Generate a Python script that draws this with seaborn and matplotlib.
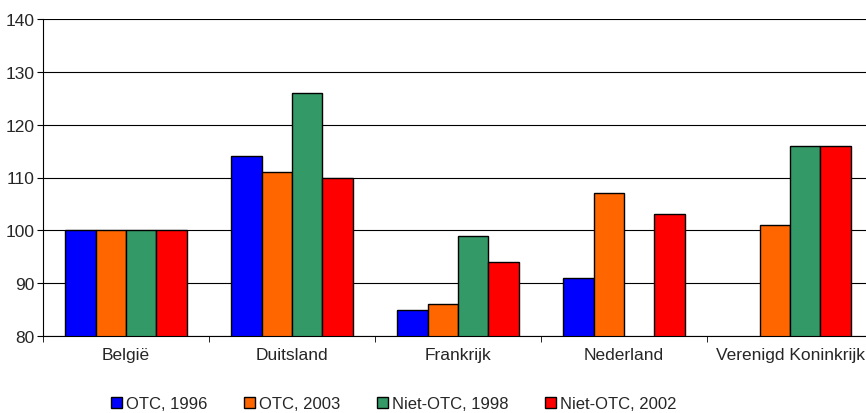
import matplotlib

matplotlib.use("Agg")
import matplotlib.pyplot as plt
import numpy as np
import pandas as pd
import seaborn as sns
from matplotlib.ticker import FixedLocator

categories = ["België", "Duitsland", "Frankrijk", "Nederland", "Verenigd Koninkrijk"]
series = ["OTC, 1996", "OTC, 2003", "Niet-OTC, 1998", "Niet-OTC, 2002"]
otc_1996 = [100, 114, 85, 91, np.nan]
otc_2003 = [100, 111, 86, 107, 101]
niet_otc_1998 = [100, 126, 99, np.nan, 116]
niet_otc_2002 = [100, 110, 94, 103, 116]
colors = ["#0000FF", "#FF6600", "#339966", "#FF0000"]
yticks = [80, 90, 100, 110, 120, 130, 140]

rows = []
for name, values in zip(series, [otc_1996, otc_2003, niet_otc_1998, niet_otc_2002]):
    for cat, v in zip(categories, values):
        rows.append({"Land": cat, "Reeks": name, "Waarde": v})
df = pd.DataFrame(rows)

sns.set_style("white")
plt.rcParams["font.family"] = ["Liberation Sans", "DejaVu Sans"]

fig = plt.figure(figsize=(8.66, 4.14), dpi=100)
ax = fig.add_axes([43 / 866, 77 / 414, 830 / 866, 317 / 414])

sns.barplot(
    data=df, x="Land", y="Waarde", hue="Reeks", order=categories, hue_order=series,
    palette=colors, saturation=1, width=0.73, edgecolor="black", linewidth=1,
    ax=ax, legend=True,
)

ax.set_ylim(80, 140)
ax.set_xlim(-0.5, len(categories) - 0.5)
ax.set_yticks(yticks)
ax.yaxis.grid(True, color="black", linewidth=0.8)
ax.set_axisbelow(True)
ax.set_xlabel("")
ax.set_ylabel("")
for s in ["top", "right"]:
    ax.spines[s].set_visible(False)
ax.spines["left"].set_color("black")
ax.spines["bottom"].set_color("black")
ax.tick_params(axis="x", length=0, labelsize=12.5, pad=8)
ax.tick_params(axis="y", length=4, direction="out", color="black", labelsize=12.5,
               left=True, pad=2)
ax.xaxis.set_minor_locator(FixedLocator(np.arange(-0.5, len(categories), 1.0)))
ax.tick_params(axis="x", which="minor", length=4, direction="out", color="black", bottom=True)

handles, labels = ax.get_legend_handles_labels()
ax.legend_.remove()
fig.legend(
    handles, labels, loc="center", bbox_to_anchor=(394 / 866, 1 - 405 / 414), ncol=4,
    frameon=False, fontsize=12, handlelength=0.65, handleheight=0.65, handletextpad=0.25,
    columnspacing=2.2, borderpad=0,
)

fig.savefig("out.png", dpi=100)
